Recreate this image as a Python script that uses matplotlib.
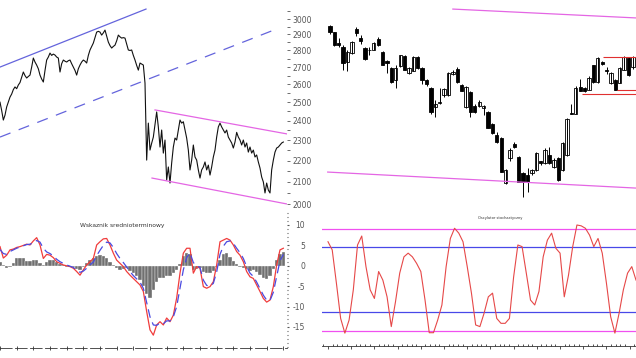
import numpy as np
import matplotlib
matplotlib.use("Agg")
import matplotlib.pyplot as plt
from matplotlib.ticker import MultipleLocator, NullFormatter, FixedLocator

W, H = 636, 358

# --- left: daily close (index = trading day) ---
close = [2500, 2455, 2404, 2430, 2474, 2500, 2528, 2545, 2570, 2585,
         2575, 2596, 2610, 2640, 2671, 2650, 2636, 2645, 2653, 2700,
         2754, 2730, 2712, 2690, 2653, 2630, 2613, 2680, 2742, 2760,
         2784, 2770, 2778, 2772, 2760, 2754, 2671, 2720, 2742, 2735,
         2730, 2738, 2742, 2720, 2700, 2680, 2653, 2690, 2712, 2730,
         2742, 2735, 2724, 2770, 2803, 2825, 2846, 2880, 2915, 2920,
         2915, 2896, 2910, 2928, 2890, 2852, 2830, 2815, 2825, 2833,
         2860, 2896, 2885, 2877, 2880, 2877, 2840, 2803, 2800, 2803,
         2770, 2742, 2710, 2682, 2724, 2718, 2712, 2607,
         2202, 2388, 2251, 2285, 2316, 2380, 2447, 2368, 2266, 2352,
         2236, 2301, 2108, 2169, 2094, 2188, 2266, 2311, 2301, 2352,
         2404, 2388, 2395, 2352, 2311, 2251, 2155, 2202, 2276, 2217,
         2202, 2155, 2117, 2155, 2169, 2193, 2155, 2178, 2131, 2169,
         2217, 2251, 2316, 2368, 2388, 2368, 2352, 2337, 2352, 2316,
         2301, 2286, 2261, 2291, 2340, 2316, 2301, 2276, 2301, 2266,
         2286, 2241, 2266, 2236, 2251, 2217, 2227, 2193, 2164, 2122,
         2099, 2049, 2094, 2062, 2049, 2155, 2202, 2241, 2261, 2266,
         2276, 2286, 2291]

# trend lines: (day, price) pairs
up_channel = [(0, 2700), (87.6, 3066)]
up_channel_dash = [(0, 2316), (166.2, 2936)]
down_upper = [(93, 2458), (172.2, 2332)]
down_lower = [(91.2, 2117), (172.2, 2000)]

# --- left bottom indicator (every second day) ---
macd = [4.7, 1.9, 2.6, 3.9, 4.1, 4.5, 4.7, 5.0, 5.3, 5.1,
        6.1, 6.9, 5.1, 1.8, 2.8, 2.6, 2.0, 1.0, 0.6, 0.2,
        0.0, -0.2, -0.6, -1.4, -2.3, -1.0, 0.2, 1.0, 1.8, 5.1,
        5.9, 6.6, 6.7, 5.1, 3.1, 1.4, 0.6, -0.2, -1.4, -2.3,
        -3.1, -3.9, -4.7, -6.3, -11.2, -15.7, -17.0, -14.5, -13.7, -14.5,
        -12.8, -13.7, -12.1, -7.9, -1.8, 3.1, 4.3, 4.3, -1.8, -0.2,
        -0.6, -5.1, -5.5, -5.1, -3.9, 0.2, 5.9, 6.3, 6.7, 6.3,
        5.1, 3.5, 2.6, 1.0, -1.4, -2.7, -3.1, -4.7, -6.3, -8.0,
        -8.9, -8.4, -5.1, 0.2, 3.9, 4.3]
signal = [4.0, 3.0, 2.8, 3.5, 3.9, 4.3, 4.6, 4.9, 5.2, 5.3,
          5.6, 6.2, 5.8, 4.3, 3.4, 3.0, 2.4, 1.6, 1.0, 0.6,
          0.2, -0.1, -0.4, -1.0, -1.6, -1.3, -0.6, 0.2, 0.9, 2.5,
          3.8, 5.0, 5.8, 5.6, 4.5, 3.0, 1.8, 0.8, -0.3, -1.4,
          -2.4, -3.2, -4.0, -5.5, -9.0, -12.5, -14.5, -14.6, -14.0, -14.2,
          -13.5, -13.5, -12.5, -10.0, -5.5, -1.0, 2.0, 3.2, 0.8, 0.0,
          -0.4, -3.5, -4.8, -5.0, -4.3, -1.5, 2.8, 4.8, 5.9, 6.1,
          5.5, 4.3, 3.2, 1.8, -0.2, -1.8, -2.6, -4.0, -5.6, -7.2,
          -8.4, -8.5, -6.5, -2.6, 1.2, 2.8]
hist = [1.0, 0.3, -0.5, -0.3, 0.8, 1.8, 2.0, 1.8, 1.2, 1.2,
        1.5, 1.5, 0.8, 0.2, 1.0, 1.5, 1.5, 1.0, 0.4, 0.2,
        -0.2, -0.3, -0.2, -0.7, -1.0, -0.2, 0.8, 1.5, 1.8, 2.4,
        2.6, 2.4, 1.8, 1.0, 0.2, -0.5, -1.0, -0.8, -0.6, -1.2,
        -1.8, -2.5, -3.5, -5.0, -7.0, -8.0, -6.0, -4.0, -3.0, -3.0,
        -2.5, -2.5, -1.8, -1.0, 0.5, 2.5, 3.2, 3.0, -1.0, -0.8,
        -0.5, -1.5, -1.8, -1.8, -1.2, -0.2, 1.5, 3.0, 3.2, 2.2,
        1.2, 0.5, -0.3, -0.5, -0.8, -1.2, -1.0, -1.4, -2.2, -3.0,
        -3.2, -2.5, -0.8, 1.5, 3.0, 3.5]

# --- right: candles ---
opens = [2954, 2915, 2846, 2821, 2730, 2784, 2935, 2877, 2815, 2800,
         2803, 2870, 2791, 2736, 2695, 2625, 2706, 2766, 2666, 2677,
         2760, 2695, 2625, 2580, 2474, 2495, 2540, 2540, 2662, 2690,
         2596, 2474, 2557, 2480, 2480, 2469, 2447, 2383, 2327, 2311,
         2094, 2212, 2281, 2217, 2141, 2131, 2141, 2155, 2197, 2188,
         2227, 2169, 2212, 2155, 2227, 2442, 2438, 2585, 2580, 2568,
         2712, 2613, 2730, 2682, 2610, 2625, 2610, 2682, 2754, 2700]
highs = [2960, 2918, 2877, 2833, 2803, 2860, 2945, 2896, 2820, 2820,
         2850, 2882, 2795, 2740, 2700, 2712, 2775, 2770, 2700, 2765,
         2765, 2700, 2630, 2585, 2513, 2580, 2580, 2670, 2680, 2700,
         2600, 2590, 2560, 2490, 2510, 2485, 2450, 2390, 2340, 2315,
         2160, 2260, 2290, 2220, 2145, 2164, 2160, 2240, 2200, 2260,
         2265, 2210, 2215, 2290, 2415, 2491, 2590, 2630, 2585, 2645,
         2715, 2760, 2735, 2700, 2670, 2630, 2700, 2765, 2760, 2765]
lows = [2905, 2830, 2821, 2682, 2677, 2780, 2890, 2840, 2745, 2770,
        2800, 2830, 2712, 2666, 2610, 2580, 2700, 2680, 2660, 2675,
        2690, 2600, 2590, 2437, 2420, 2490, 2530, 2535, 2655, 2610,
        2560, 2470, 2420, 2440, 2475, 2430, 2360, 2330, 2285, 2145,
        2090, 2200, 2260, 2099, 2031, 2055, 2130, 2150, 2180, 2185,
        2185, 2165, 2105, 2150, 2220, 2436, 2435, 2560, 2555, 2565,
        2610, 2610, 2715, 2660, 2600, 2565, 2605, 2680, 2650, 2690]
closes = [2915, 2833, 2833, 2724, 2791, 2852, 2910, 2860, 2748, 2805,
          2846, 2833, 2712, 2724, 2613, 2695, 2772, 2682, 2695, 2760,
          2695, 2625, 2602, 2447, 2491, 2500, 2574, 2666, 2671, 2613,
          2563, 2585, 2447, 2447, 2500, 2480, 2363, 2337, 2291, 2145,
          2155, 2251, 2266, 2099, 2099, 2099, 2155, 2236, 2188, 2251,
          2188, 2202, 2108, 2286, 2410, 2438, 2580, 2563, 2563, 2636,
          2613, 2754, 2719, 2677, 2666, 2568, 2695, 2760, 2653, 2760]

right_upper = [(28, 3066), (69.7, 3007)]
right_lower = [(-0.5, 2145), (69.7, 2071)]
# support / resistance: (price, first candle)
levels = [(2760, 62.2), (2568, 65.4), (2545, 57.4)]

# --- right bottom oscillator ---
osc = [5.9, 3.9, -4.3, -12.9, -16.5, -13.3, -5.9, 5.1, 7.3, -0.2,
       -5.9, -8.0, -1.4, -3.5, -7.6, -14.9, -8.8, -1.8, 2.2, 3.1,
       2.2, 0.6, -1.4, -8.4, -16.4, -16.4, -13.3, -9.6, -0.2, 6.7,
       9.2, 8.0, 5.9, -0.2, -6.7, -14.5, -14.9, -11.6, -7.6, -6.7,
       -12.9, -14.1, -14.1, -12.9, -2.7, 5.1, 4.7, -1.8, -8.4, -9.6,
       -6.3, 2.2, 6.3, 8.0, 4.3, 3.1, -7.6, -2.3, 4.7, 10.0,
       9.8, 9.2, 7.5, 4.7, 6.7, 3.1, -4.3, -12.5, -16.5, -11.6,
       -5.9, -1.8, -0.2, -3.5]
osc_outer = [9.0, -15.9]
osc_inner = [4.7, -11.4]

price_ticks = list(range(2000, 3001, 100))
osc_ticks = [-15, -10, -5, 0, 5, 10]

BLUE = '#6464dc'
PINK = '#e466e4'
TXT = '#555555'


def px_axes(fig, x0, y0, x1, y1):
    return fig.add_axes([x0 / W, 1 - y1 / H, (x1 - x0) / W, (y1 - y0) / H])


def price_lim(top, bottom):
    # 2000 sits at y=204px and 3000 at y=19px on a log scale
    k = np.log(1.5) / 185
    return 2000 * np.exp((204 - bottom) * k), 2000 * np.exp((204 - top) * k)


def osc_lim(top, bottom):
    # 10 sits at y=225px and -15 at y=327px
    s = 102 / 25
    return 10 - (bottom - 225) / s, 10 + (225 - top) / s


def seg(ax, pts, **kw):
    ax.plot([p[0] for p in pts], [p[1] for p in pts], **kw)


fig = plt.figure(figsize=(W / 100, H / 100), dpi=100)
fig.patch.set_facecolor('white')

# ---------- left top ----------
ax1 = px_axes(fig, 0, 2, 287, 210)
ax1.set_yscale('log')
ax1.set_ylim(*price_lim(2, 210))
ax1.set_xlim(0, 172.2)
ax1.plot(np.arange(len(close)), close, color='#111111', lw=0.8)
seg(ax1, up_channel, color=BLUE, lw=0.9)
seg(ax1, up_channel_dash, color=BLUE, lw=0.9, dashes=(9, 7))
seg(ax1, down_upper, color=PINK, lw=0.9)
seg(ax1, down_lower, color=PINK, lw=0.9)
for s in ax1.spines.values():
    s.set_visible(False)
ax1.set_xticks([])
ax1.yaxis.tick_right()
ax1.yaxis.set_major_locator(FixedLocator(price_ticks))
ax1.yaxis.set_minor_locator(FixedLocator([p + 50 for p in price_ticks]))
ax1.yaxis.set_major_formatter(plt.FixedFormatter([str(p) for p in price_ticks]))
ax1.yaxis.set_minor_formatter(NullFormatter())
ax1.tick_params(axis='y', which='both', length=2.2, width=0.6, color=TXT,
                labelsize=5.5, labelcolor=TXT, pad=2)

# ---------- right top ----------
ax2 = px_axes(fig, 322, 2, 636, 210)
ax2.set_yscale('log')
ax2.set_ylim(*price_lim(2, 210))
ax2.set_xlim(-1.8, 69.7)
idx = np.arange(len(opens))
o = np.array(opens)
c = np.array(closes)
ax2.vlines(idx, lows, highs, color='black', lw=0.7)
up = c >= o
ax2.bar(idx[up], (c - o)[up], bottom=o[up], width=0.75, facecolor='white',
        edgecolor='black', lw=0.6)
ax2.bar(idx[~up], (o - c)[~up], bottom=c[~up], width=0.75, facecolor='black',
        edgecolor='black', lw=0.6)
seg(ax2, right_upper, color=PINK, lw=0.9)
seg(ax2, right_lower, color=PINK, lw=0.9)
for lvl, start in levels:
    ax2.hlines(lvl, start, 69.7, color='#e03030', lw=0.8)
ax2.axis('off')

# ---------- left bottom ----------
ax3 = px_axes(fig, 0, 212, 287, 348)
ax3.set_xlim(0, 172.2)
ax3.set_ylim(*osc_lim(212, 348))
k = np.arange(len(macd)) * 2
ax3.bar(k, hist, width=2.0, color='#707070', edgecolor='white', lw=0.25)
ax3.plot(k, macd, color='#f03c3c', lw=0.9)
ax3.plot(k, signal, color='#4a4ae0', lw=0.9, dashes=(7, 4))
for name, s in ax3.spines.items():
    s.set_visible(name == 'bottom')
ax3.spines['bottom'].set_color('#333333')
ax3.spines['bottom'].set_linewidth(0.6)
ax3.spines['bottom'].set_linestyle((0, (14, 4)))
ax3.xaxis.set_major_locator(MultipleLocator(10))
ax3.xaxis.set_major_formatter(NullFormatter())
ax3.tick_params(axis='x', length=3, width=0.6, color='#333333', direction='inout')
ax3.yaxis.tick_right()
ax3.set_yticks(osc_ticks)
ax3.set_yticklabels([str(t) for t in osc_ticks])
ax3.yaxis.set_minor_locator(MultipleLocator(1))
ax3.tick_params(axis='y', which='major', length=1.5, width=0.8, color=TXT,
                labelsize=5.5, labelcolor=TXT, pad=11.5)
ax3.tick_params(axis='y', which='minor', length=1.0, width=0.8, color=TXT)
for lab in ax3.get_yticklabels():
    lab.set_ha('right')
fig.text(122 / W, 1 - 225 / H, 'Wskaznik srednioterminowy', fontsize=4.3,
         color='#333333', ha='center', va='center')

# ---------- right bottom ----------
ax4 = px_axes(fig, 322, 212, 636, 346)
ax4.set_xlim(-1.42, 73)
ax4.set_ylim(*osc_lim(212, 346))
for lvl in osc_outer:
    ax4.axhline(lvl, color='#f050f0', lw=0.9)
for lvl in osc_inner:
    ax4.axhline(lvl, color='#4848e8', lw=0.9)
ax4.plot(np.arange(len(osc)), osc, color='#e64848', lw=0.8)
for name, s in ax4.spines.items():
    s.set_visible(name == 'bottom')
ax4.spines['bottom'].set_color('#333333')
ax4.spines['bottom'].set_linewidth(0.6)
ax4.set_yticks([])
ax4.xaxis.set_major_locator(MultipleLocator(5.5))
ax4.xaxis.set_minor_locator(MultipleLocator(1.1))
ax4.xaxis.set_major_formatter(NullFormatter())
ax4.tick_params(axis='x', which='major', length=2.5, width=0.6, color='#333333')
ax4.tick_params(axis='x', which='minor', length=1.2, width=0.6, color='#333333',
                direction='in')
fig.text(500 / W, 1 - 218 / H, 'Oscylator stochastyczny', fontsize=2.6,
         color='#333333', ha='center', va='center')

fig.savefig('out.png', dpi=100)
